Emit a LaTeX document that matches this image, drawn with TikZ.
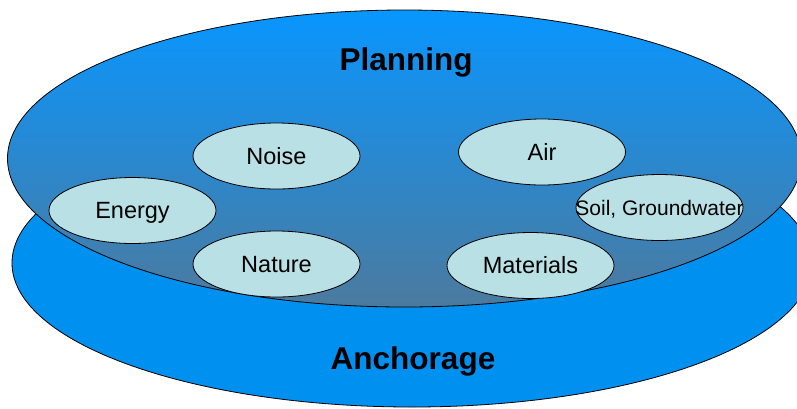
\documentclass[tikz,border=0pt]{standalone}
\usepackage{fontspec}
\setmainfont{Liberation Sans}
\usetikzlibrary{shapes.geometric}
\definecolor{topblue}{RGB}{8,150,255}
\definecolor{botslate}{RGB}{76,122,158}
\definecolor{baseblue}{RGB}{0,144,240}
\definecolor{pale}{RGB}{185,224,228}
\begin{document}
\begin{tikzpicture}[x=1pt,y=-1pt,
  plate/.style={ellipse, draw=black, line width=0.8pt, inner sep=0pt},
  topic/.style={ellipse, draw=black, line width=0.8pt, fill=pale,
    minimum width=167pt, minimum height=66pt, inner sep=0pt,
    font=\fontsize{23.5}{28}\selectfont, text height=16.8pt, text depth=0pt},
  titletext/.style={font=\fontsize{31.5}{36}\selectfont\bfseries, anchor=base, inner sep=0pt}]
\useasboundingbox (0,0) rectangle (797,408);
\node[plate, fill=baseblue, minimum width=800pt, minimum height=288pt] (anchorage) at (412,263) {};
\node[plate, top color=topblue, bottom color=botslate, minimum width=794pt, minimum height=297pt] (planning) at (404.5,158.5) {};
\node[titletext] (planninglabel) at (406,70) {Planning};
\node[titletext] (anchoragelabel) at (413,369) {Anchorage};
\node[topic] (noise) at (276.5,156) {\makebox[0pt]{Noise}};
\node[topic] (energy) at (132.5,210.5) {\makebox[0pt]{Energy}};
\node[topic] (nature) at (276.5,264) {\makebox[0pt]{Nature}};
\node[topic] (air) at (542,152) {\makebox[0pt]{Air}};
\node[topic, font=\fontsize{21}{25}\selectfont, text height=15pt] (soil) at (659.5,207.5) {\makebox[0pt]{Soil, Groundwater}};
\node[topic] (materials) at (530.5,265.5) {\makebox[0pt]{Materials}};
\end{tikzpicture}
\end{document}
